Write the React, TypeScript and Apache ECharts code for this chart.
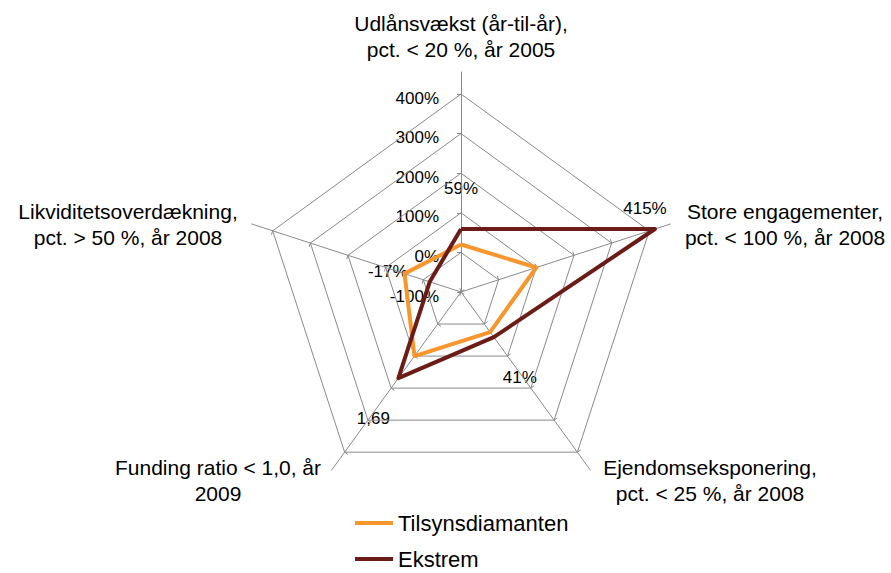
import React, { useEffect, useRef } from "react";
import * as echarts from "echarts";

// ---- data ----
const categories = [
  "Udlånsvækst (år-til-år),\npct. < 20 %, år 2005",
  "Store engagementer,\npct. < 100 %, år 2008",
  "Ejendomseksponering,\npct. < 25 %, år 2008",
  "Funding ratio < 1,0, år\n2009",
  "Likviditetsoverdækning,\npct. > 50 %, år 2008",
];
const seriesNames = ["Tilsynsdiamanten", "Ekstrem"];
const tilsynValues = [20, 100, 25, 100, 50];
const ekstremValues = [59, 415, 41, 169, -17];
const ekstremLabels = ["59%", "415%", "41%", "1,69", "-17%"];
const tickValues = [-100, 0, 100, 200, 300, 400];
const tickLabels = ["-100%", "0%", "100%", "200%", "300%", "400%"];

// ---- layout / style ----
const AXIS_MIN = -100;
const AXIS_MAX = 400;
const CX = 461;
const CY = 292;
const R = 198;
const R_AXIS = 220;
const FONT = 'Arial, "Liberation Sans", sans-serif';
const GRID_COLOR = "#8a8a8a";
const COLORS = ["#F8962E", "#6B1C17"];
// clockwise category order -> echarts (counter-clockwise) indicator order
const ORDER = [0, 4, 3, 2, 1];
const namePos = [
  [461, 36],
  [785, 224.5],
  [710, 480.5],
  [218, 480.5],
  [128, 224.5],
];
const labelOffsets = [
  [0, -41],
  [-10, -20],
  [26, 40],
  [-25, 40],
  [-42, -10],
];

function radiusOf(v: number) {
  return ((v - AXIS_MIN) / (AXIS_MAX - AXIS_MIN)) * R;
}

export default function App() {
  const ref = useRef<HTMLDivElement>(null);
  useEffect(() => {
    if (!ref.current) return;
    const chart = echarts.init(ref.current, undefined, { renderer: "svg" });
    const indicators = ORDER.map((i) => ({ name: categories[i], min: AXIS_MIN, max: AXIS_MAX }));
    const reorder = (arr: number[]) => ORDER.map((i) => arr[i]);

    const graphics: any[] = [];
    categories.forEach((name, i) => {
      graphics.push({
        type: "text",
        x: namePos[i][0],
        y: namePos[i][1],
        style: {
          text: name,
          font: `21px ${FONT}`,
          lineHeight: 26,
          fill: "#000",
          textAlign: "center",
          textVerticalAlign: "middle",
          align: "center",
          verticalAlign: "middle",
        },
      });
    });
    tickValues.forEach((v, i) => {
      graphics.push({
        type: "text",
        x: CX - 22,
        y: CY - radiusOf(v) + 4,
        style: {
          text: tickLabels[i],
          font: `17px ${FONT}`,
          fill: "#000",
          textAlign: "right",
          textVerticalAlign: "middle",
          align: "right",
          verticalAlign: "middle",
        },
      });
    });
    ekstremValues.forEach((v, i) => {
      const a = ((90 - i * 72) * Math.PI) / 180;
      const r = radiusOf(v);
      graphics.push({
        type: "text",
        x: CX + r * Math.cos(a) + labelOffsets[i][0],
        y: CY - r * Math.sin(a) + labelOffsets[i][1],
        style: {
          text: ekstremLabels[i],
          font: `17px ${FONT}`,
          fill: "#000",
          textAlign: "center",
          textVerticalAlign: "middle",
          align: "center",
          verticalAlign: "middle",
        },
      });
    });

    chart.setOption({
      animation: false,
      backgroundColor: "#fff",
      color: COLORS,
      radar: [
        {
          indicator: indicators,
          center: [CX, CY],
          radius: R,
          startAngle: 90,
          splitNumber: 5,
          shape: "polygon",
          axisName: { show: false },
          splitLine: { show: true, lineStyle: { color: GRID_COLOR, width: 1 } },
          splitArea: { show: false },
          axisLine: { show: false },
          axisTick: { show: true, length: 4, lineStyle: { color: GRID_COLOR } },
          axisLabel: { show: false },
          silent: true,
        },
        {
          indicator: indicators,
          center: [CX, CY],
          radius: R_AXIS,
          startAngle: 90,
          splitNumber: 5,
          shape: "polygon",
          axisName: { show: false },
          splitLine: { show: false },
          splitArea: { show: false },
          axisLine: { show: true, lineStyle: { color: GRID_COLOR, width: 1 } },
          axisTick: { show: false },
          axisLabel: { show: false },
          silent: true,
        },
      ],
      legend: {
        orient: "vertical",
        left: 355,
        top: 512,
        width: 300,
        height: 120,
        padding: 0,
        itemWidth: 38,
        itemHeight: 4,
        itemGap: 14,
        icon: "rect",
        textStyle: { fontFamily: FONT, fontSize: 22, color: "#000" },
        data: seriesNames,
      },
      series: [
        {
          type: "radar",
          radarIndex: 0,
          symbol: "none",
          data: [
            {
              name: seriesNames[0],
              value: reorder(tilsynValues),
              lineStyle: { color: COLORS[0], width: 4 },
              itemStyle: { color: COLORS[0] },
            },
            {
              name: seriesNames[1],
              value: reorder(ekstremValues),
              lineStyle: { color: COLORS[1], width: 4 },
              itemStyle: { color: COLORS[1] },
            },
          ],
        },
      ],
      graphic: graphics,
    });
    return () => chart.dispose();
  }, []);
  return (
    <div
      ref={ref}
      style={{ position: "fixed", left: 0, top: 0, width: 891, height: 573, background: "#fff" }}
    />
  );
}
